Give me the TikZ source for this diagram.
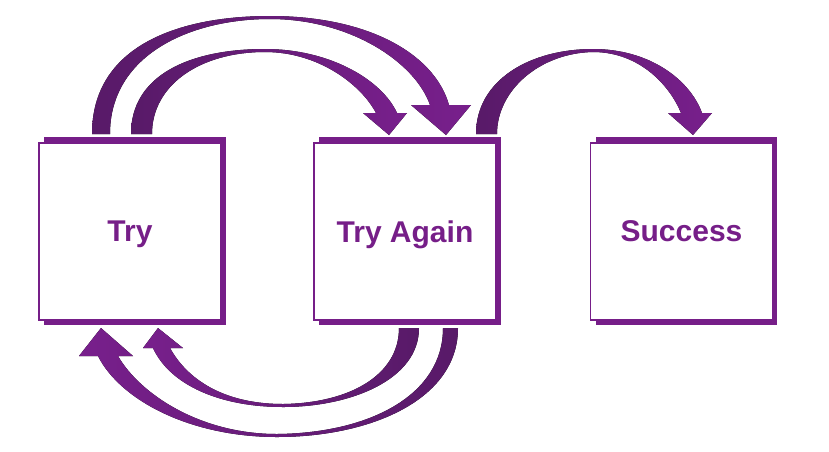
\documentclass[tikz,border=0pt]{standalone}
\usepackage{fontspec}
\setmainfont{Liberation Sans}
\usepackage{xcolor}
\usetikzlibrary{calc, backgrounds}

\definecolor{boxpurple}{HTML}{761E88}
\definecolor{arrdark}{HTML}{581A68}
\definecolor{arrlight}{HTML}{781F8C}

\tikzset{
  box/.style={draw=boxpurple, line width=1.5pt, fill=white, minimum width=182pt, minimum height=177pt,
    inner sep=0pt, text depth=0pt, text=boxpurple, font=\bfseries\fontsize{30}{36}\selectfont},
  fwd/.style={left color=arrdark, right color=arrlight},
  bwd/.style={left color=arrlight, right color=arrdark}
}

\begin{document}
\begin{tikzpicture}[x=1pt, y=-1pt]
                        \useasboundingbox (0,0) rectangle (829,451);
                        \node[box] (a) at (130, 231.5) {Try};
                        \node[box] (b) at (405, 231.5) {Try Again};
                        \node[box] (c) at (681.5, 231.5) {Success};
                        \begin{scope}[on background layer]
                        \foreach \n in {a, b, c}
                        \fill[boxpurple] ($(\n.south west)+(6,4)$) rectangle ($(\n.north east)+(4,-5)$);
                        \end{scope}
                        % Try -> Try Again, outer
                        \fill[fwd]
                        (92,134) .. controls (92,45) and (180,16) .. (270,16)
                        .. controls (370,16) and (435,55) .. (449,105)
                        -- (471,105) -- (446,135) -- (411,105) -- (430,105)
                        .. controls (415,62) and (350,19) .. (270,19)
                        .. controls (190,19) and (110,55) .. (110,134) -- cycle;
                        % Try -> Try Again, inner
                        \fill[fwd]
                        (131,134) .. controls (131,75) and (190,49) .. (265,49)
                        .. controls (330,49) and (382,80) .. (397,113)
                        -- (407,113) -- (389,135) -- (363,113) -- (376,113)
                        .. controls (362,86) and (320,52) .. (265,52)
                        .. controls (200,52) and (152,85) .. (152,134) -- cycle;
                        % Try Again -> Success
                        \fill[fwd]
                        (476,134) .. controls (476,80) and (530,49) .. (593,49)
                        .. controls (650,49) and (690,80) .. (702,113)
                        -- (712,113) -- (693,135) -- (668,113) -- (681,113)
                        .. controls (670,86) and (640,52) .. (593,52)
                        .. controls (540,53) and (497,90) .. (497,134) -- cycle;
                        % Try Again -> Try, inner
                        \fill[bwd]
                        (419,328) .. controls (419,380) and (350,407) .. (283,407)
                        .. controls (220,407) and (170,385) .. (153,348)
                        -- (143,348) -- (158,328) -- (183,348) -- (170,348)
                        .. controls (190,384) and (230,404) .. (283,404)
                        .. controls (350,403) and (399,375) .. (399,328) -- cycle;
                        % Try Again -> Try, outer
                        \fill[bwd]
                        (458,328) .. controls (458,400) and (370,437) .. (277,437)
                        .. controls (190,437) and (120,400) .. (98,356)
                        -- (79,356) -- (101,328) -- (133,356) -- (118,356)
                        .. controls (140,394) and (200,434) .. (277,434)
                        .. controls (370,433) and (443,395) .. (443,328) -- cycle;
                    \end{tikzpicture}
\end{document}
